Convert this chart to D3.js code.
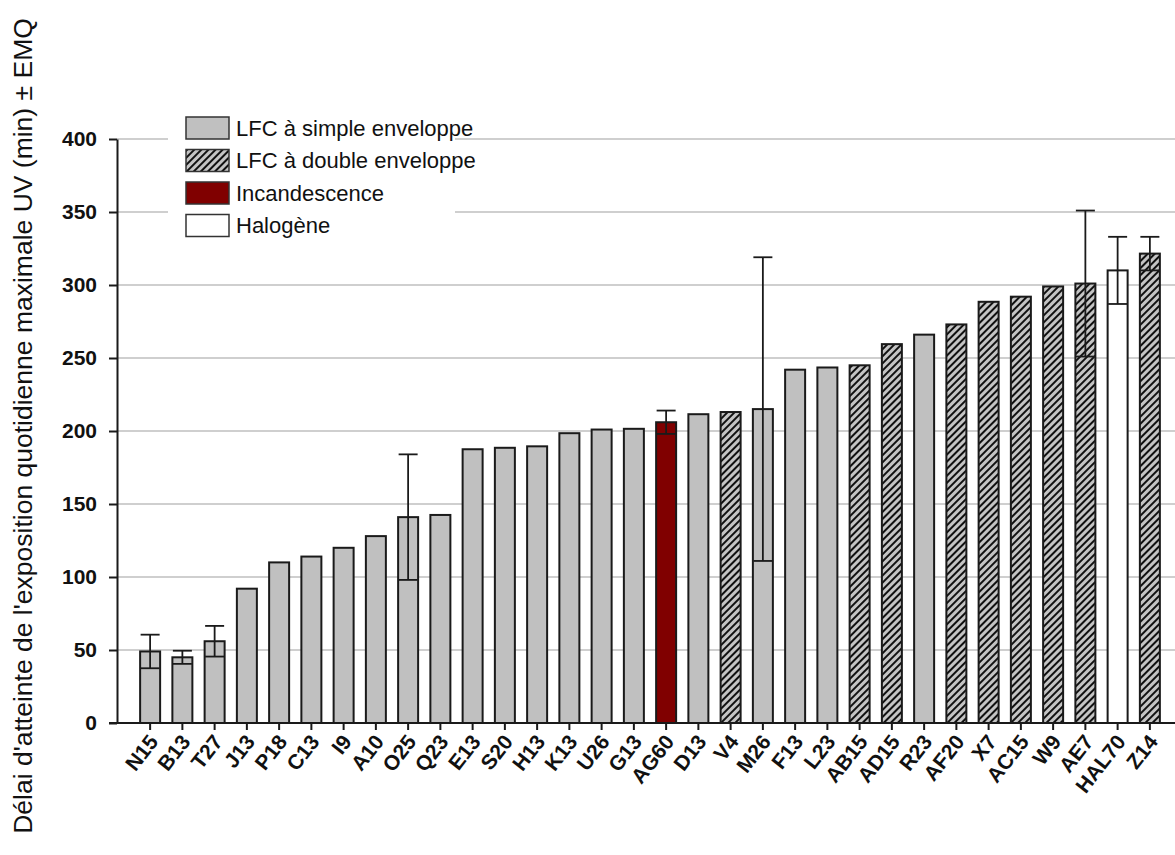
<!DOCTYPE html>
<html>
<head>
<meta charset="utf-8">
<script src="https://cdn.jsdelivr.net/npm/d3@7"></script>
<style>
  body { margin: 0; background: #fff; }
  svg { display: block; font-family: "Liberation Sans", Arial, sans-serif; }
</style>
</head>
<body>
<div id="chart"></div>
<script>
let width = 1175,
    height = 855,
    margin = ({ top: 139, right: 0, bottom: 132, left: 117 });

// data
const lamps = ["N15", "B13", "T27", "J13", "P18", "C13", "I9", "A10", "O25", "Q23",
  "E13", "S20", "H13", "K13", "U26", "G13", "AG60", "D13", "V4", "M26",
  "F13", "L23", "AB15", "AD15", "R23", "AF20", "X7", "AC15", "W9", "AE7", "HAL70", "Z14"];
const delays = [49, 45, 56, 92, 110, 114, 120, 128, 141, 142.5,
  187.5, 188.5, 189.5, 198.5, 201, 201.5, 206, 211.5, 213, 215,
  242, 243.5, 245, 259.5, 266, 273, 288.5, 292, 299, 301, 310, 321.5];
const errors = [11.5, 4.5, 10.5, 0, 0, 0, 0, 0, 43, 0,
  0, 0, 0, 0, 0, 0, 8, 0, 0, 104,
  0, 0, 0, 0, 0, 0, 0, 0, 0, 50, 23, 11.5];
const kinds = ["s", "s", "s", "s", "s", "s", "s", "s", "s", "s",
  "s", "s", "s", "s", "s", "s", "i", "s", "d", "s",
  "s", "s", "d", "d", "s", "d", "d", "d", "d", "d", "h", "d"];
const legendLabels = ["LFC à simple enveloppe", "LFC à double enveloppe", "Incandescence", "Halogène"];
const legendKinds = ["s", "d", "i", "h"];
const yTicks = [0, 50, 100, 150, 200, 250, 300, 350, 400];

const data = lamps.map((name, i) => ({ name, value: delays[i], err: errors[i], kind: kinds[i] }));

const svg = d3.select("#chart")
  .append("svg")
  .attr("width", width)
  .attr("height", height);

// hatch for double envelope
const defs = svg.append("defs");
const pat = defs.append("pattern")
  .attr("id", "hatch")
  .attr("patternUnits", "userSpaceOnUse")
  .attr("width", 5)
  .attr("height", 5)
  .attr("patternTransform", "rotate(45)");
pat.append("rect").attr("width", 5).attr("height", 5).attr("fill", "#c4c4c4");
pat.append("line")
  .attr("x1", 1).attr("y1", 0).attr("x2", 1).attr("y2", 5)
  .attr("stroke", "#111").attr("stroke-width", 2);

const fillFor = k => k === "d" ? "url(#hatch)" : k === "i" ? "#800000" : k === "h" ? "#fff" : "#c0c0c0";

let x = d3.scaleBand()
  .domain(lamps)
  .range([134, 1166])
  .paddingInner(0.38)
  .paddingOuter(0.19);

let y = d3.scaleLinear()
  .domain([0, 400])
  .range([height - margin.bottom, margin.top]);

// gridlines
svg.append("g")
  .selectAll("line")
  .data(yTicks.filter(d => d > 0))
  .join("line")
  .attr("x1", margin.left)
  .attr("x2", width)
  .attr("y1", d => y(d))
  .attr("y2", d => y(d))
  .attr("stroke", "#cfcfcf")
  .attr("stroke-width", 2);

// bars
svg.append("g")
  .selectAll("rect")
  .data(data)
  .join("rect")
  .attr("x", d => x(d.name))
  .attr("width", x.bandwidth())
  .attr("y", d => y(d.value))
  .attr("height", d => y(0) - y(d.value))
  .attr("fill", d => fillFor(d.kind))
  .attr("stroke", "#1a1a1a")
  .attr("stroke-width", 2);

// error bars
const eb = svg.append("g")
  .selectAll("g")
  .data(data.filter(d => d.err > 0))
  .join("g")
  .attr("stroke", "#1a1a1a")
  .attr("stroke-width", 1.8);
const cap = 9.5;
eb.append("line")
  .attr("x1", d => x(d.name) + x.bandwidth() / 2)
  .attr("x2", d => x(d.name) + x.bandwidth() / 2)
  .attr("y1", d => y(d.value + d.err))
  .attr("y2", d => y(d.value - d.err));
eb.append("line")
  .attr("x1", d => x(d.name) + x.bandwidth() / 2 - cap)
  .attr("x2", d => x(d.name) + x.bandwidth() / 2 + cap)
  .attr("y1", d => y(d.value + d.err))
  .attr("y2", d => y(d.value + d.err));
eb.append("line")
  .attr("x1", d => x(d.name) + x.bandwidth() / 2 - cap)
  .attr("x2", d => x(d.name) + x.bandwidth() / 2 + cap)
  .attr("y1", d => y(d.value - d.err))
  .attr("y2", d => y(d.value - d.err));

// y axis
const yAxis = svg.append("g")
  .attr("transform", `translate(${margin.left},0)`)
  .call(d3.axisLeft(y).tickValues(yTicks).tickSize(8).tickSizeOuter(0).tickPadding(12));
yAxis.select(".domain").attr("stroke", "#1a1a1a").attr("stroke-width", 2);
yAxis.selectAll(".tick line").attr("stroke", "#1a1a1a").attr("stroke-width", 2);
yAxis.selectAll(".tick text")
  .attr("font-size", 21)
  .attr("font-weight", "bold")
  .attr("fill", "#111")
  .attr("font-family", "Liberation Sans, Arial, sans-serif");

// x axis
const xAxis = svg.append("g")
  .attr("transform", `translate(0,${y(0)})`)
  .call(d3.axisBottom(x).tickSize(7).tickSizeOuter(0).tickPadding(4));
xAxis.select(".domain").remove();
xAxis.append("line")
  .attr("x1", margin.left - 8)
  .attr("x2", width)
  .attr("stroke", "#1a1a1a")
  .attr("stroke-width", 2);
xAxis.selectAll(".tick line").attr("stroke", "#1a1a1a").attr("stroke-width", 2);
xAxis.selectAll(".tick text")
  .attr("font-size", 21)
  .attr("font-weight", "bold")
  .attr("fill", "#111")
  .attr("font-family", "Liberation Sans, Arial, sans-serif")
  .attr("text-anchor", "end")
  .attr("dy", null)
  .attr("y", 0)
  .attr("transform", "translate(9,19) rotate(-52)");

// y axis title
svg.append("text")
  .attr("transform", `translate(32,426) rotate(-90)`)
  .attr("text-anchor", "middle")
  .attr("font-size", 26.5)
  .attr("fill", "#111")
  .text("Délai d'atteinte de l'exposition quotidienne maximale UV (min) ± EMQ");

// legend
const lg = svg.append("g");
lg.append("rect")
  .attr("x", 168).attr("y", 110)
  .attr("width", 287).attr("height", 135)
  .attr("fill", "#fff");
const items = lg.selectAll("g.item")
  .data(legendLabels)
  .join("g")
  .attr("class", "item")
  .attr("transform", (d, i) => `translate(186,${117 + i * 32.5})`);
items.append("rect")
  .attr("width", 43)
  .attr("height", 22)
  .attr("fill", (d, i) => fillFor(legendKinds[i]))
  .attr("stroke", "#333")
  .attr("stroke-width", 1.5);
items.append("text")
  .attr("x", 50)
  .attr("y", 11)
  .attr("dy", "0.36em")
  .attr("font-size", 22)
  .attr("fill", "#111")
  .text(d => d);
</script>
</body>
</html>
